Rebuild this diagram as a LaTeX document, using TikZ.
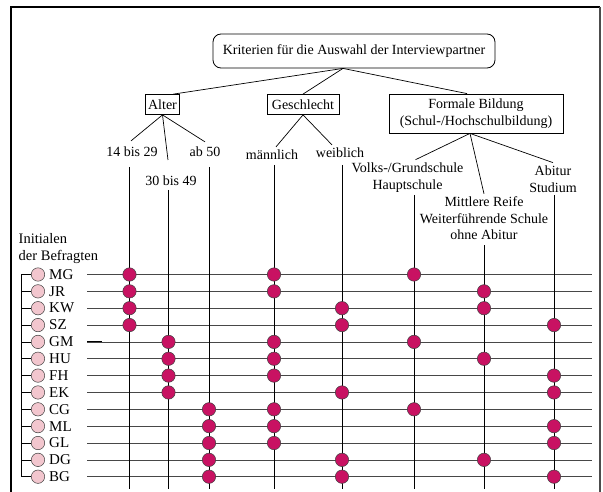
\documentclass[tikz,border=0pt]{standalone}
\usepackage{fontspec}
\setmainfont{Liberation Serif}
\usetikzlibrary{calc}
\definecolor{dotmag}{RGB}{200,18,98}
\definecolor{pinkc}{RGB}{242,198,206}
\begin{document}
\begin{tikzpicture}[x=1pt,y=-1pt,
  font=\fontsize{14}{16.5}\selectfont,
  box/.style={draw, line width=0.8pt, inner sep=2.5pt, align=center},
  lbl/.style={inner sep=3pt, align=center},
  conn/.style={line width=0.7pt},
  rowline/.style={line width=0.7pt, black!72},
  colline/.style={line width=0.7pt},
  rowlab/.style={anchor=west, inner sep=0pt, font=\fontsize{15}{17}\selectfont},
  hit/.style={circle, draw=black!75, line width=0.5pt, fill=dotmag, minimum size=13.4pt, inner sep=0pt},
  pers/.style={circle, draw=black!75, line width=0.5pt, fill=pinkc, minimum size=13.4pt, inner sep=0pt}]
\useasboundingbox (0,0) rectangle (603,492);
% frame
\draw[line width=1.2pt] (11,492) -- (11,7) -- (600,7);
\draw[line width=1.8pt, black!70] (600,7) -- (600,492);

% tree
\node[box, rounded corners=8pt, minimum width=282pt, minimum height=34pt] (root) at (354,51) {Kriterien für die Auswahl der Interviewpartner};
\node[box, minimum width=34pt, minimum height=20pt] (alter) at (162.5,104.5) {Alter};
\node[box, minimum width=72pt, minimum height=20pt] (gesch) at (303,104.5) {Geschlecht};
\node[box, minimum width=174pt, minimum height=39pt] (form) at (476,113.5) {Formale Bildung\\(Schul-/Hochschulbildung)};

\draw[conn] ([xshift=-11pt]root.south) -- ([xshift=11pt]alter.north);
\draw[conn] ([xshift=-11pt]root.south) -- (gesch.north);
\draw[conn] ([xshift=-11pt]root.south) -- ([xshift=-9pt]form.north);

\node[lbl] (a1) at (132,152) {14 bis 29};
\node[lbl] (a2) at (171,181) {30 bis 49};
\node[lbl] (a3) at (205,152) {ab 50};
\node[lbl] (g1) at (272,155) {männlich};
\node[lbl] (g2) at (340,153) {weiblich};
\node[lbl] (f1) at (407.5,177.5) {Volks-/Grundschule\\Hauptschule};
\node[lbl] (f2) at (484,218.5) {Mittlere Reife\\Weiterführende Schule\\ohne Abitur};
\node[lbl] (f3) at (553,179) {Abitur\\Studium};

\coordinate (a2top) at (168,160);
\draw[conn] (alter.south) -- ([xshift=-1pt,yshift=3pt]a1.north);
\draw[conn] (alter.south) -- (a2top);
\draw[conn] (alter.south) -- ([yshift=2pt]a3.north);
\draw[conn] (gesch.south) -- ([xshift=4pt]g1.north);
\draw[conn] (gesch.south) -- ([xshift=-8pt]g2.north);
\draw[conn] ([xshift=-6pt]form.south) -- ([xshift=8pt]f1.north);
\draw[conn] ([xshift=-6pt]form.south) -- (f2.north);
\draw[conn] ([xshift=-6pt]form.south) -- (f3.north);

\node[anchor=west, inner sep=0pt, align=left, font=\fontsize{14.5}{17}\selectfont] (init) at (18.5,248.5) {Initialen\\der Befragten};

% rows
\foreach \lab [count=\i from 0] in {MG,JR,KW,SZ,GM,HU,FH,EK,CG,ML,GL,DG,BG} {
  \pgfmathsetmacro\yy{274.5+16.85*\i}
  \coordinate (k\lab) at (21,\yy);
  \coordinate (rs\lab) at (87,\yy);
  \coordinate (re\lab) at (592,\yy);
  \draw[rowline] (rs\lab) -- (re\lab);
  \node[pers] (p\lab) at (38,\yy) {};
  \node[rowlab] (l\lab) at (49,\yy) {\lab};
  \draw[conn] (k\lab) -- (p\lab.west);
}
\draw[conn] (kMG) -- (kBG);
\draw[line width=1pt] (rsGM) -- ($(rsGM)+(15,0)$);

% columns
\foreach \c/\x/\t in {1/129.5/167, 2/168.5/190, 3/209/167, 4/274/165, 5/342/165, 6/414/195, 7/484/245, 8/554/195} {
  \coordinate (t\c) at (\x,\t);
  \coordinate (b\c) at (\x,489);
  \draw[colline] (t\c) -- (b\c);
}

% dots
\foreach \r/\c in {MG/1,MG/4,MG/6, JR/1,JR/4,JR/7, KW/1,KW/5,KW/7, SZ/1,SZ/5,SZ/8,
                   GM/2,GM/4,GM/6, HU/2,HU/4,HU/7, FH/2,FH/4,FH/8, EK/2,EK/5,EK/8,
                   CG/3,CG/4,CG/6, ML/3,ML/4,ML/8, GL/3,GL/4,GL/8, DG/3,DG/5,DG/7, BG/3,BG/5,BG/8} {
  \node[hit] (d\r\c) at (b\c |- rs\r) {};
}
\end{tikzpicture}
\end{document}
